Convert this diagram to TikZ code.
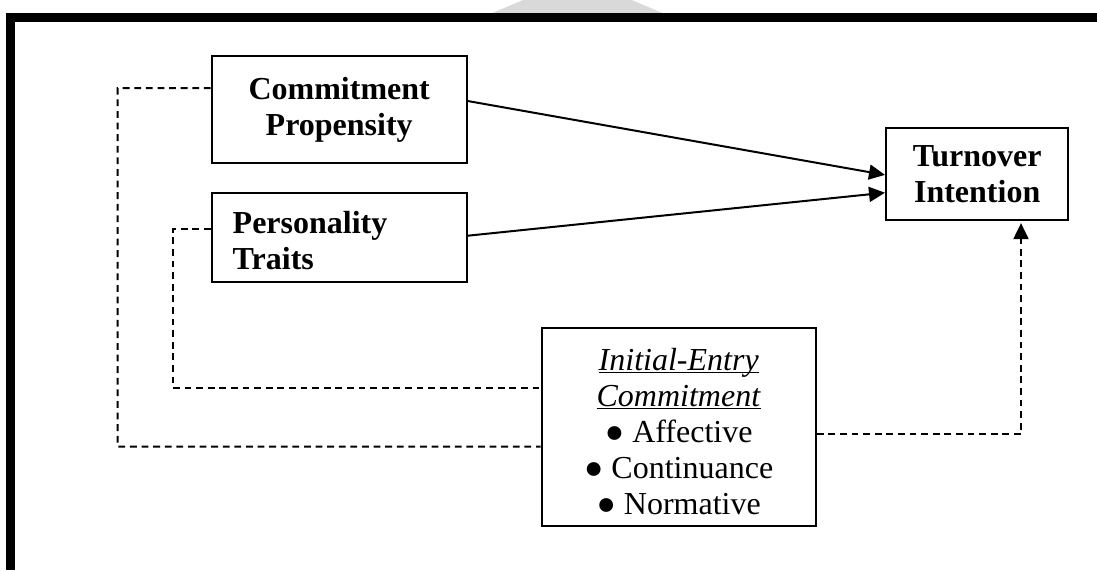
\documentclass[tikz,border=0pt]{standalone}
\usepackage{fontspec}
\setmainfont{Liberation Serif}
\usetikzlibrary{arrows.meta}
\newcommand\undl[1]{$\underline{\smash{\hbox{#1}}}$\vphantom{#1}}
\begin{document}
\begin{tikzpicture}[x=0.5pt,y=-0.5pt,
  box/.style={draw, line width=1pt, inner sep=0pt, align=center,
    font=\fontsize{16}{18}\selectfont},
  link/.style={line width=1pt, dash pattern=on 3.4pt off 2.4pt},
  arr/.style={line width=1pt, -{Triangle[length=8pt,width=7.5pt]}}]
\useasboundingbox (0,0) rectangle (1097,570);
\fill[gray!30] (491.7,13.3) -- (523,0) -- (631.7,0) -- (663,13.3) -- cycle;
\draw[line width=4.5pt] (1097,17.7) -- (10.5,17.7) -- (10.5,570);
\node[box, minimum width=127.5pt, minimum height=53.5pt, font=\bfseries\fontsize{16}{18}\selectfont]
  (propensity) at (339.2,109.5) {Commitment\\Propensity};
\node[box, minimum height=44.5pt, text width=106.5pt, inner xsep=10.5pt, align=left,
  font=\bfseries\fontsize{16}{18}\selectfont]
  (traits) at (339.2,237.5) {\rule{0pt}{14.2pt}Personality\\Traits};
\node[box, minimum width=91.2pt, minimum height=46.2pt, font=\bfseries\fontsize{16}{18}\selectfont]
  (turnover) at (977.2,173.9) {Turnover\\Intention};
\node[box, minimum width=137pt, minimum height=98.7pt]
  (entry) at (678.7,427) {\rule{0pt}{15.2pt}\undl{\textit{Initial-Entry}}\\\undl{\textit{Commitment}}\\● Affective\\● Continuance\\● Normative};
\draw[arr] ([yshift=4.25pt]propensity.east) -- ([yshift=-0.5pt]turnover.west);
\draw[arr] ([yshift=0.9pt]traits.east) -- ([yshift=-9.4pt]turnover.west);
\draw[link] ([yshift=10.75pt]propensity.west) -| (117.7,446.7) -- ([yshift=-9.85pt]entry.west);
\draw[link] ([yshift=4.25pt]traits.west) -| (172.7,388) -- ([yshift=19.5pt]entry.west);
\draw[link, -{Triangle[length=8pt,width=7.5pt]}, shorten >=1pt] ([yshift=-3.5pt]entry.east) -| ([xshift=21.9pt]turnover.south);
\end{tikzpicture}
\end{document}
